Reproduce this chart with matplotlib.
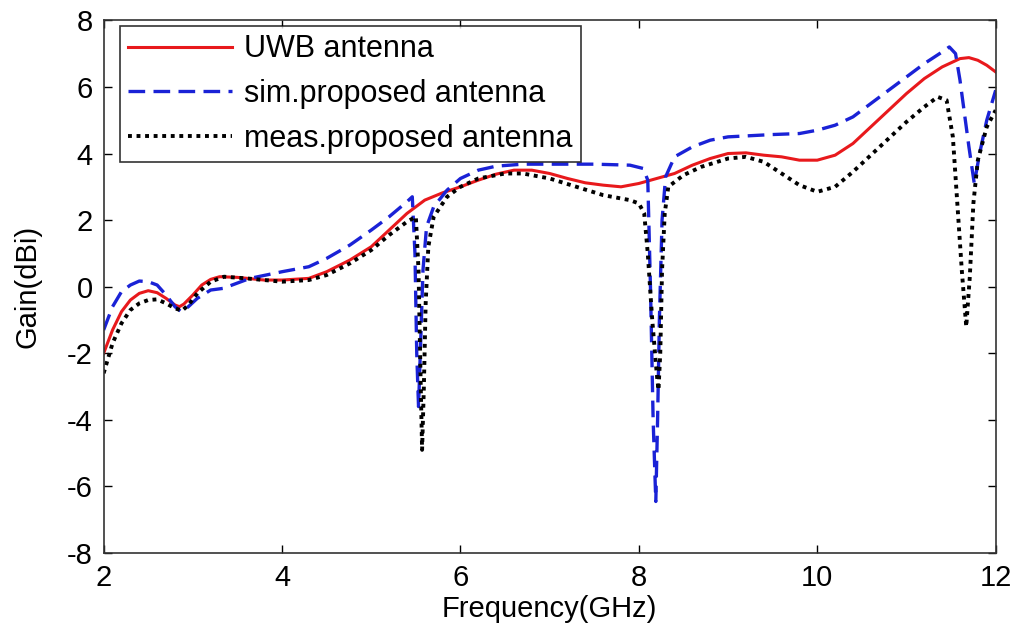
import matplotlib.pyplot as plt

plt.rcParams['font.family'] = ['Liberation Sans', 'DejaVu Sans']
plt.rcParams['axes.unicode_minus'] = False

# UWB antenna (red, solid)
uwb_f = [2.0, 2.1, 2.2, 2.3, 2.4, 2.5, 2.6, 2.7, 2.8, 2.85, 2.9, 3.0, 3.1, 3.2, 3.3,
         3.5, 3.8, 4.0, 4.3, 4.5, 4.76, 5.0, 5.2, 5.4, 5.6, 5.8, 6.0, 6.2, 6.4, 6.6,
         6.8, 7.0, 7.2, 7.4, 7.6, 7.8, 8.0, 8.2, 8.4, 8.6, 8.8, 9.0, 9.2, 9.4, 9.6,
         9.8, 10.0, 10.2, 10.4, 10.6, 10.8, 11.0, 11.2, 11.4, 11.6, 11.7, 11.8, 11.9, 12.0]
uwb_g = [-2.0, -1.3, -0.75, -0.4, -0.2, -0.12, -0.18, -0.35, -0.55, -0.6, -0.52, -0.25, 0.05, 0.22, 0.3,
         0.28, 0.2, 0.2, 0.25, 0.45, 0.8, 1.2, 1.7, 2.2, 2.6, 2.82, 3.0, 3.2, 3.38, 3.5,
         3.5, 3.4, 3.25, 3.12, 3.05, 3.0, 3.1, 3.25, 3.4, 3.65, 3.85, 4.0, 4.02, 3.95, 3.9,
         3.8, 3.8, 3.95, 4.3, 4.8, 5.3, 5.8, 6.25, 6.6, 6.85, 6.88, 6.8, 6.65, 6.45]

# sim. proposed antenna (blue, dashed)
sim_f = [2.0, 2.1, 2.2, 2.3, 2.4, 2.5, 2.6, 2.7, 2.8, 2.87, 2.95, 3.05, 3.2, 3.34, 3.64,
         4.0, 4.3, 4.5, 4.76, 5.0, 5.2, 5.4, 5.46, 5.49, 5.51, 5.53, 5.55, 5.58, 5.62, 5.7,
         5.85, 6.0, 6.2, 6.4, 6.7, 7.0, 7.5, 7.9, 8.05, 8.1, 8.13, 8.16, 8.19, 8.21, 8.23,
         8.26, 8.3, 8.4, 8.6, 8.8, 9.0, 9.5, 9.8, 10.0, 10.2, 10.4, 10.6, 10.8, 11.0, 11.2,
         11.4, 11.48, 11.55, 11.6, 11.65, 11.7, 11.76, 11.82, 11.9, 12.0]
sim_g = [-1.3, -0.6, -0.15, 0.05, 0.17, 0.15, 0.05, -0.25, -0.6, -0.75, -0.6, -0.35, -0.1, -0.05, 0.25,
         0.45, 0.6, 0.85, 1.25, 1.7, 2.1, 2.55, 2.7, 1.0, -2.0, -3.6, -2.0, 0.5, 1.8, 2.4,
         2.9, 3.25, 3.5, 3.62, 3.68, 3.68, 3.68, 3.65, 3.55, 3.2, 0.0, -4.0, -6.45, -4.0, -1.0,
         2.0, 3.3, 3.9, 4.2, 4.4, 4.5, 4.57, 4.6, 4.7, 4.85, 5.1, 5.5, 5.9, 6.3, 6.7,
         7.05, 7.2, 7.0, 6.2, 5.2, 4.2, 3.1, 4.0, 5.0, 5.9]

# meas. proposed antenna (black, dotted)
meas_f = [2.0, 2.1, 2.2, 2.3, 2.4, 2.5, 2.6, 2.7, 2.8, 2.88, 2.95, 3.05, 3.2, 3.35, 3.6,
          4.0, 4.3, 4.5, 4.76, 5.0, 5.2, 5.4, 5.5, 5.53, 5.555, 5.57, 5.59, 5.61, 5.64, 5.7,
          5.85, 6.0, 6.2, 6.5, 6.7, 7.0, 7.3, 7.6, 7.9, 8.0, 8.06, 8.1, 8.15, 8.2, 8.22,
          8.24, 8.26, 8.29, 8.33, 8.5, 8.7, 9.0, 9.2, 9.4, 9.6, 9.8, 10.0, 10.2, 10.4, 10.6,
          10.8, 11.0, 11.2, 11.35, 11.45, 11.52, 11.57, 11.62, 11.67, 11.71, 11.75, 11.8, 11.9, 12.0]
meas_g = [-2.6, -1.7, -1.1, -0.7, -0.5, -0.4, -0.38, -0.5, -0.65, -0.72, -0.55, -0.2, 0.15, 0.3, 0.25,
          0.15, 0.2, 0.35, 0.7, 1.1, 1.55, 1.95, 2.1, 0.5, -3.0, -4.9, -3.0, -0.5, 1.2, 2.1,
          2.7, 3.0, 3.25, 3.4, 3.4, 3.25, 3.0, 2.75, 2.6, 2.5, 2.2, 1.0, -1.0, -2.6, -3.1,
          -2.0, 0.5, 2.2, 3.0, 3.35, 3.6, 3.85, 3.9, 3.75, 3.4, 3.05, 2.85, 3.0, 3.45, 3.95,
          4.45, 4.95, 5.4, 5.7, 5.6, 4.5, 2.5, 0.5, -1.2, 0.3, 2.5, 3.8, 4.8, 5.3]

fig = plt.figure(figsize=(10.16, 6.35), dpi=100)
ax = fig.add_axes([0.102, 0.129, 0.878, 0.839])

ax.plot(uwb_f, uwb_g, color='#e8191c', lw=2.2, label='UWB antenna')
ax.plot(sim_f, sim_g, color='#1a22d6', lw=2.4, dashes=(5, 2.5), label='sim.proposed antenna')
ax.plot(meas_f, meas_g, color='black', lw=2.8, linestyle=(0, (1, 1.2)),
        label='meas.proposed antenna')

ax.set_xlim(2, 12)
ax.set_ylim(-8, 8)
ax.set_xticks([2, 4, 6, 8, 10, 12])
ax.set_yticks([-8, -6, -4, -2, 0, 2, 4, 6, 8])
ax.tick_params(direction='in', top=True, right=True, labelsize=21, length=6, width=1, pad=8)
for s in ax.spines.values():
    s.set_linewidth(1.2)
    s.set_color('#333333')

ax.set_xlabel('Frequency(GHz)', fontsize=21, labelpad=2)
ax.set_ylabel('Gain(dBi)', fontsize=21, labelpad=18)

leg = ax.legend(loc='upper left', fontsize=22, handlelength=3.4, frameon=True, fancybox=False,
                borderpad=0.28, labelspacing=0.48, handletextpad=0.4, borderaxespad=0,
                bbox_to_anchor=(0.018, 0.99))
leg.get_frame().set_edgecolor('black')
leg.get_frame().set_linewidth(1.2)

fig.savefig('out.png', dpi=100)
